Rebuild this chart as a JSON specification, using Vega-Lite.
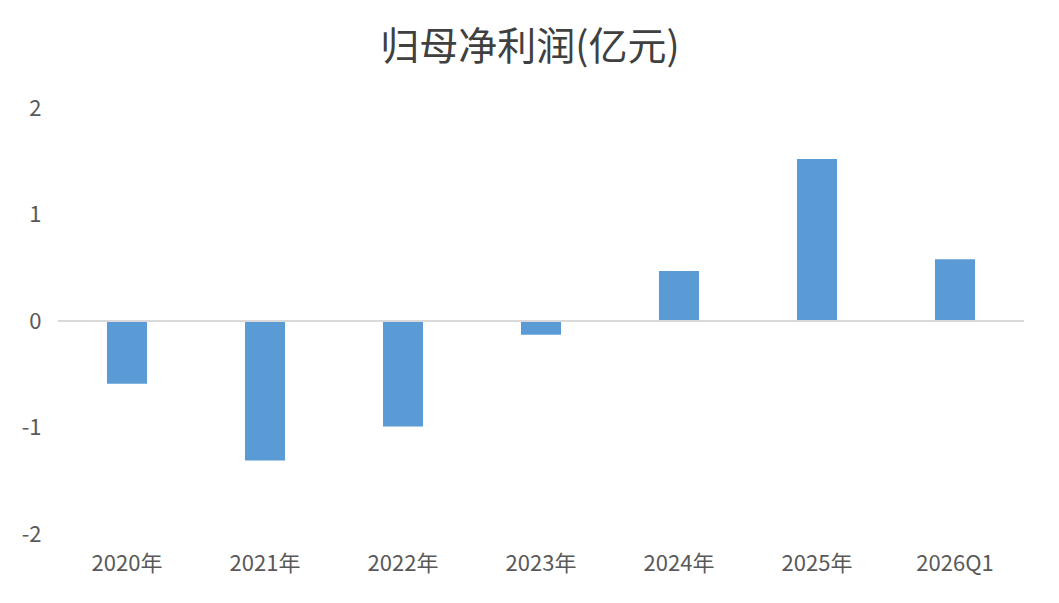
{
  "$schema": "https://vega.github.io/schema/vega-lite/v6.json",
  "width": 966,
  "height": 426,
  "autosize": {"type": "none"},
  "padding": {"left": 58, "top": 108, "right": 35, "bottom": 69},
  "background": "white",
  "title": {
    "text": "归母净利润(亿元)",
    "font": "Noto Sans CJK SC",
    "fontSize": 39,
    "fontWeight": "normal",
    "color": "#404040",
    "anchor": "middle",
    "dx": -11,
    "offset": 29
  },
  "data": {
    "values": [
      {"period": "2020年", "profit": -0.59},
      {"period": "2021年", "profit": -1.31},
      {"period": "2022年", "profit": -0.99},
      {"period": "2023年", "profit": -0.13},
      {"period": "2024年", "profit": 0.47},
      {"period": "2025年", "profit": 1.52},
      {"period": "2026Q1", "profit": 0.58}
    ]
  },
  "layer": [
    {
      "mark": {"type": "bar", "color": "#5b9bd5"},
      "encoding": {
        "x": {
          "field": "period",
          "type": "nominal",
          "sort": null,
          "scale": {"paddingInner": 0.71, "paddingOuter": 0.355},
          "axis": {
            "title": null,
            "domain": false,
            "ticks": false,
            "labelAngle": 0,
            "labelPadding": 19,
            "labelFont": "Noto Sans CJK SC",
            "labelFontSize": 22,
            "labelColor": "#595959"
          }
        },
        "y": {
          "field": "profit",
          "type": "quantitative",
          "scale": {"domain": [-2, 2], "nice": false},
          "axis": {
            "title": null,
            "values": [-2, -1, 0, 1, 2],
            "labelExpr": "'' + datum.value",
            "grid": false,
            "domain": false,
            "ticks": false,
            "labelPadding": 17,
            "labelFont": "Noto Sans CJK SC",
            "labelFontSize": 22,
            "labelColor": "#595959"
          }
        }
      }
    },
    {
      "mark": {"type": "rule", "color": "#d9d9d9", "strokeWidth": 1.5},
      "encoding": {"y": {"datum": 0}}
    }
  ],
  "config": {"view": {"stroke": null}}
}
